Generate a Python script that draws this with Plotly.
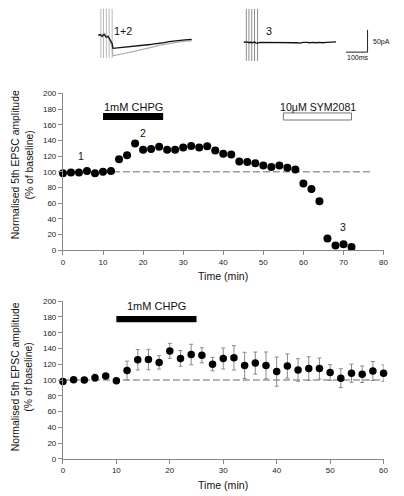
import plotly.graph_objects as go

# ---------------- data ----------------
# Top: single experiment
time_a = [0, 2, 4, 6, 8, 10, 12, 14, 16, 18, 20, 22, 24, 26, 28, 30, 32, 34, 36,
          38, 40, 42, 44, 46, 48, 50, 52, 54, 56, 58, 60, 62, 64, 66, 68, 70, 72]
amp_a = [98, 99, 99, 101, 98, 100, 101, 116, 121, 136, 128, 129, 132, 128, 128, 131,
         133, 131, 132.5, 127, 123, 122, 113, 112.5, 111, 108, 106, 108, 105, 103,
         85, 78, 62.5, 15, 6, 7.5, 4]

# Bottom: pooled mean +/- SEM
time_b = [0, 2, 4, 6, 8, 10, 12, 14, 16, 18, 20, 22, 24, 26, 28, 30, 32, 34, 36,
          38, 40, 42, 44, 46, 48, 50, 52, 54, 56, 58, 60]
mean_b = [98.3, 100.4, 100, 103, 105, 99, 112, 125.7, 126, 122.4, 137, 127.4, 132.4,
          131.4, 120.2, 127.3, 128.2, 118.6, 121.5, 118.6, 110.7, 117.8, 112.8, 114.5,
          114.5, 109.5, 102.4, 108.7, 107.4, 111.5, 108.7]
sem_b = [2, 1.5, 1.5, 4.5, 3, 3, 12, 13, 13, 8.5, 9.5, 10, 13, 9.5, 8.5, 13.3, 15.5,
         16.6, 14, 17, 18.5, 15.4, 14.3, 15, 13.5, 10, 12, 11.5, 10.5, 12, 10.5]

baseline = 100
chpg_period = [10, 25]
sym_period = [55, 72]
top_xticks = [0, 10, 20, 30, 40, 50, 60, 70, 80]
bot_xticks = [0, 10, 20, 30, 40, 50, 60]
yticks = [0, 20, 40, 60, 80, 100, 120, 140, 160, 180, 200]

# Inset example traces (ms, pA relative to baseline)
trace1_t = [0, 5, 9, 14, 18, 23, 27, 32, 36, 41, 45, 50, 55, 60, 64, 68, 80, 91, 110,
            130, 145, 165, 185, 214, 240, 260, 282, 305, 327, 350, 373, 400, 432]
trace1_pA = [0, 1, 2, -1, -2, 1, 2, -1, -4, -3, -2, -6, -11, -14, -18, -29, -28.5, -28,
             -27, -26, -25, -24, -23.5, -22, -20.5, -19, -18, -16, -14, -12.5, -11, -10, -9]
trace2_t = [0, 9, 18, 27, 36, 45, 55, 64, 68, 80, 91, 110, 130, 145, 165, 185, 214,
            240, 260, 282, 305, 327, 350, 373, 400, 432]
trace2_pA = [2, 0, 2, 4, 0, -4, -12, -27, -46, -45, -44, -42, -40, -38, -36, -34, -31,
             -28, -25, -22, -20, -18, -16, -14, -13, -12]
trace3_t = [0, 6, 12, 18, 25, 33, 41, 50, 57, 64, 75, 86, 100, 112, 125, 140, 155, 170,
            185, 200, 215, 230, 245, 260, 275, 291, 305, 320, 336, 350, 365, 382, 395,
            410, 427]
trace3_pA = [0, 1, 0, 1, -1, 0, -1, 1, -2, -2, 0, 0, -1, 0, -1, 0, -1, 0, 0, 0, -1, 0,
             -1, -2, 0, 0, -1, 0, -1, 0, -1, 0, 0, 1, 1]
stim_t = [12, 24, 37, 50, 64]
stim12_range = [60, -51]
stim3_range = [75, -42]
scale_ms = 100
scale_pA = 50

# ---------------- geometry helpers ----------------
W, H = 404, 496
FONT = "Liberation Sans, Arial, sans-serif"


def fx(px):
    return px / W


def fy(py):
    return 1 - py / H


# inset scale: px per ms / px per pA
PX_MS = 0.22
PX_PA = 0.452
ms_of = lambda px: px / PX_MS
pa_of = lambda py: -py / PX_PA

fig = go.Figure()

# ----- top chart -----
fig.add_trace(go.Scatter(x=time_a, y=amp_a, mode="markers",
                         marker=dict(color="black", size=8),
                         cliponaxis=False, xaxis="x", yaxis="y", showlegend=False))

# ----- bottom chart -----
fig.add_trace(go.Scatter(x=time_b, y=mean_b, mode="markers",
                         marker=dict(color="black", size=7.5),
                         error_y=dict(type="data", array=sem_b, visible=True,
                                      color="#8a8a8a", thickness=1, width=2),
                         cliponaxis=False, xaxis="x2", yaxis="y2", showlegend=False))

# ----- insets -----
off1 = (ms_of(98), pa_of(32))
off3 = (ms_of(246), pa_of(39))


def stim_lines(off, rng):
    xs, ys = [], []
    for t in stim_t:
        xs += [off[0] + t, off[0] + t, None]
        ys += [off[1] + rng[0], off[1] + rng[1], None]
    return xs, ys


sx, sy = stim_lines(off1, stim12_range)
fig.add_trace(go.Scatter(x=sx, y=sy, mode="lines", line=dict(color="#b8b8b8", width=1),
                         xaxis="x3", yaxis="y3", showlegend=False, hoverinfo="skip"))
sx, sy = stim_lines(off3, stim3_range)
fig.add_trace(go.Scatter(x=sx, y=sy, mode="lines", line=dict(color="#8c8c8c", width=1),
                         xaxis="x3", yaxis="y3", showlegend=False, hoverinfo="skip"))

fig.add_trace(go.Scatter(x=[off1[0] + t for t in trace2_t], y=[off1[1] + v for v in trace2_pA],
                         mode="lines", line=dict(color="#b0b0b0", width=1.3),
                         xaxis="x3", yaxis="y3", showlegend=False))
fig.add_trace(go.Scatter(x=[off1[0] + t for t in trace1_t], y=[off1[1] + v for v in trace1_pA],
                         mode="lines", line=dict(color="#111111", width=1.3),
                         xaxis="x3", yaxis="y3", showlegend=False))
fig.add_trace(go.Scatter(x=[off3[0] + t for t in trace3_t], y=[off3[1] + v for v in trace3_pA],
                         mode="lines", line=dict(color="#111111", width=1.3),
                         xaxis="x3", yaxis="y3", showlegend=False))

# scale bar
cx, cy = ms_of(372), pa_of(49)
fig.add_trace(go.Scatter(x=[cx - scale_ms, cx, cx], y=[cy, cy, cy + scale_pA],
                         mode="lines", line=dict(color="#222", width=1),
                         xaxis="x3", yaxis="y3", showlegend=False))

# ---------------- layout ----------------
xdom = [fx(62), fx(388.3)]
axis_common = dict(showline=True, linecolor="#888", linewidth=1, ticks="outside",
                   ticklen=4, tickcolor="#888", tickwidth=1, showgrid=False,
                   zeroline=False, tickfont=dict(family=FONT, size=8, color="#222"),
                   fixedrange=True)

fig.update_layout(
    width=W, height=H, margin=dict(l=0, r=0, t=0, b=0),
    plot_bgcolor="white", paper_bgcolor="white",
    xaxis=dict(domain=xdom, range=[0, 80], tickvals=top_xticks, anchor="y", **axis_common),
    yaxis=dict(domain=[fy(250.7), fy(91)], range=[0, 200], tickvals=yticks, anchor="x",
               **axis_common),
    xaxis2=dict(domain=xdom, range=[0, 60], tickvals=bot_xticks, anchor="y2", **axis_common),
    yaxis2=dict(domain=[fy(463.3), fy(302.7)], range=[0, 200], tickvals=yticks, anchor="x2",
                **axis_common),
    xaxis3=dict(domain=[0, 1], range=[0, ms_of(W)], visible=False, anchor="y3", fixedrange=True),
    yaxis3=dict(domain=[fy(80), 1], range=[pa_of(80), 0], visible=False, anchor="x3",
                fixedrange=True),
)

# baseline dashed lines
fig.add_shape(type="line", xref="x", yref="y", x0=0, x1=77, y0=baseline, y1=baseline,
              line=dict(color="#9a9a9a", width=1.5, dash="7px,3px"), layer="below")
fig.add_shape(type="line", xref="x2", yref="y2", x0=0, x1=60, y0=baseline, y1=baseline,
              line=dict(color="#9a9a9a", width=1.5, dash="7px,3px"), layer="below")

# drug bars
fig.add_shape(type="rect", xref="x", yref="y", x0=chpg_period[0], x1=chpg_period[1],
              y0=166, y1=175, fillcolor="black", line=dict(width=0))
fig.add_shape(type="rect", xref="x", yref="y", x0=sym_period[0], x1=sym_period[1],
              y0=166, y1=175, fillcolor="white", line=dict(color="#777", width=1))
fig.add_shape(type="rect", xref="x2", yref="y2", x0=chpg_period[0], x1=chpg_period[1],
              y0=173.4, y1=181.2, fillcolor="black", line=dict(width=0))

ann = []


def txt(text, x, y, xref, yref, size=11, **kw):
    d = dict(text=text, x=x, y=y, xref=xref, yref=yref, showarrow=False,
             xanchor="center", yanchor="middle",
             font=dict(family=FONT, size=size, color="#111"))
    d.update(kw)
    ann.append(d)


txt("1mM CHPG", sum(chpg_period) / 2, 183, "x", "y", 11)
txt("10\u03bcM SYM2081", 63.6, 183, "x", "y", 10.6)
txt("1", 4.4, 119.6, "x", "y", 10.5)
txt("2", 20.1, 149.6, "x", "y", 10.5)
txt("3", 69.8, 29, "x", "y", 10.5)
txt("1mM CHPG", 17.5, 193.5, "x2", "y2", 11)

txt("Time (min)", fx(225), fy(276.7), "paper", "paper", 10.6)
txt("Time (min)", fx(225), fy(489.5), "paper", "paper", 10.6)

for cy_title in (164, 380):
    txt("Normalised 5th EPSC amplitude", fx(13.5), fy(cy_title), "paper", "paper", 10.4,
        textangle=-90)
    txt("(% of baseline)", fx(27), fy(cy_title), "paper", "paper", 10.4, textangle=-90)

# inset labels
txt("1+2", fx(123), fy(27), "paper", "paper", 10.8)
txt("3", fx(272), fy(28), "paper", "paper", 10.8)
txt("50pA", fx(375), fy(39), "paper", "paper", 7, xanchor="left")
txt("100ms", fx(362), fy(54), "paper", "paper", 7)

fig.update_layout(annotations=ann)

fig.write_html("out.html", config={"displayModeBar": False},
               post_script="document.body.style.margin='0';document.body.style.overflow='hidden';")
